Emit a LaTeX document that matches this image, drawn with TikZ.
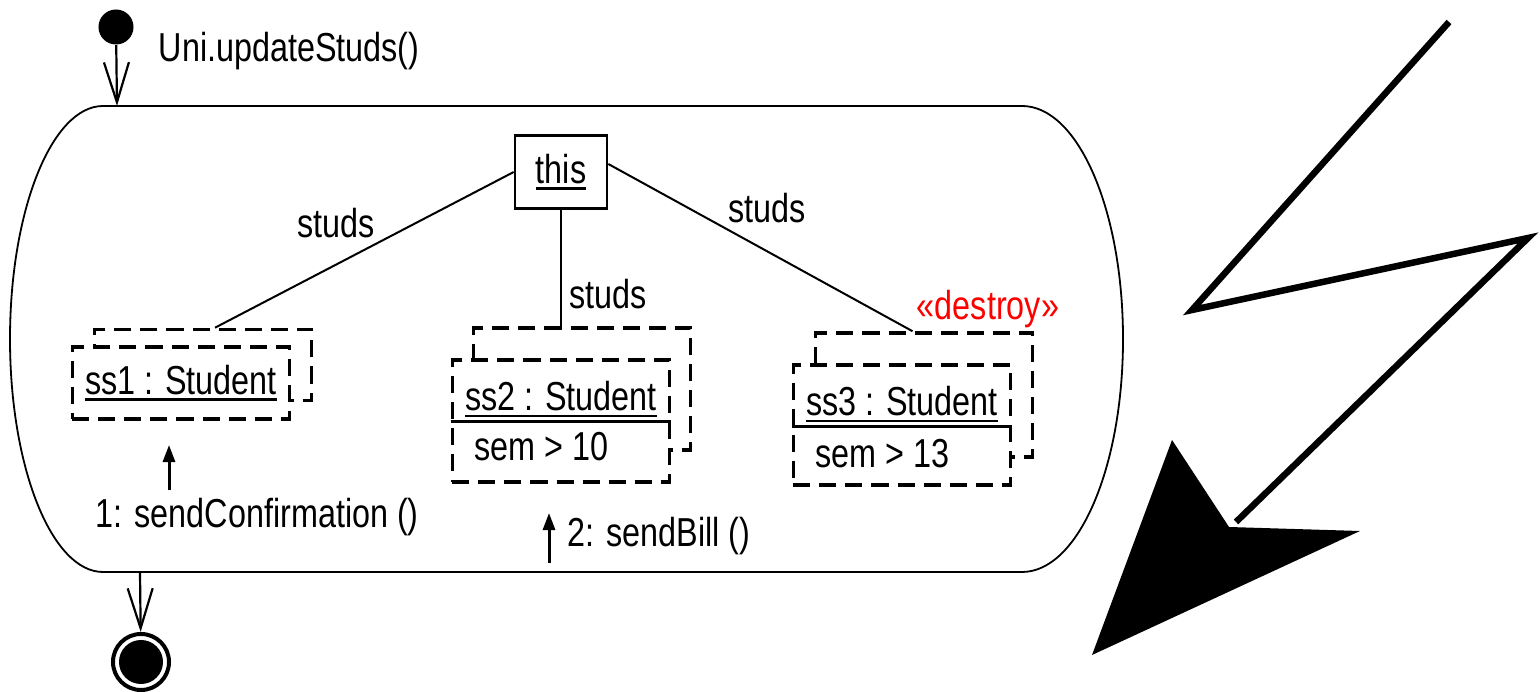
\documentclass[tikz,border=0pt]{standalone}
\usepackage{fontspec}
\setmainfont{Liberation Sans}[FakeStretch=0.8]
\usetikzlibrary{arrows.meta,positioning,calc}
\newcommand\uln[1]{\setbox0\hbox{#1}\rlap{\rule[-0.17em]{\wd0}{0.065em}}\box0}

\begin{document}
\begin{tikzpicture}[
  x=0.01cm,y=-0.01cm,%
  every node/.style={font=\fontsize{11.5}{13}\selectfont,inner sep=2pt},%
  ini/.style={circle,fill=black,minimum size=0.35cm,inner sep=0pt},%
  fin/.style={circle,draw,line width=0.04cm,minimum size=0.56cm,inner sep=0pt,
    path picture={\fill (path picture bounding box.center) circle (0.22cm);}},%
  o/.style={draw,line width=0.025cm,minimum width=0.92cm,minimum height=0.73cm},%
  ob/.style={draw,dash pattern=on 0.17cm off 0.09cm,line width=0.035cm,
    minimum width=2.17cm,fill=white,inner sep=0pt},%
  e/.style={line width=0.02cm},%
  tr/.style={line width=0.022cm,-{Straight Barb[length=0.4cm,width=0.25cm]}},%
  msg/.style={line width=0.03cm,-{Triangle[length=0.17cm,width=0.12cm]}},%
  ]
  \useasboundingbox (0,0) rectangle (1540,692);

  % state
  \draw [line width=0.025cm] (103,106) -- (1022,106);
  \draw [line width=0.025cm] (103,572) -- (1022,572);
  \draw [line width=0.018cm] (103,106) .. controls (52,106) and (10,210) .. (10,339)
    .. controls (10,468) and (52,572) .. (103,572);
  \draw [line width=0.018cm] (1022,106) .. controls (1078,106) and (1123,210) .. (1123,339)
    .. controls (1123,468) and (1078,572) .. (1022,572);
  \coordinate (in) at (117,106);
  \coordinate (out) at (140,572);

  \node (start) [ini] at (116,27) {};
  \node (trg) [anchor=west] at (151,51) {Uni.updateStuds()};
  \node (end) [fin] at (141,662) {};

  \draw [tr] (start) -- (in);
  \draw [tr] (out) -- (end);

  % objects
  \node (this) [o] at (561,172) {\uln{this}};

  \node (ss1b) [ob,minimum height=0.71cm] at (203,365) {};
  \node (ss1) [ob,minimum height=0.72cm] at (181,383) {\uln{ss1 : Student}};

  \node (ss2b) [ob,minimum height=1.22cm] at (582,389) {};
  \node (ss2) [ob,minimum height=1.22cm] at (561,421) {};
  \node (ss2n) [below=0.15cm of ss2.north] {\uln{ss2 : Student}};
  \node (ss2a) [anchor=west,inner sep=0pt] at ($(ss2.north west)+(23,88)$) {sem > 10};
  \draw [line width=0.03cm] ($(ss2.north west)+(0,63)$) -- ($(ss2.north east)+(0,63)$);

  \node (ss3b) [ob,minimum height=1.24cm] at (924,395) {};
  \node (ss3) [ob,minimum height=1.2cm] at (902,425) {};
  \node (ss3n) [below=0.15cm of ss3.north] {\uln{ss3 : Student}};
  \node (ss3a) [anchor=west,inner sep=0pt] at ($(ss3.north west)+(23,90)$) {sem > 13};
  \draw [line width=0.03cm] ($(ss3.north west)+(0,63)$) -- ($(ss3.north east)+(0,63)$);
  \node (destroy) [text=red] at (988,309) {«destroy»};

  \draw [e] (this.west) -- ([xshift=0.12cm]ss1b.north)
  node [pos=0.45,above left,inner sep=1pt] {studs};
  \draw [e] (this) -- (this |- ss2b.north)
  node [pos=0.72,right] {studs};
  \draw [e] ([yshift=0.08cm]this.east) -- ([xshift=-0.115cm]ss3b.north)
  node [pos=0.38,above right,inner sep=1pt] {studs};

  % messages
  \node (m1) [anchor=west] at (88,517) {1: sendConfirmation ()};
  \coordinate (c1) at (169,445);
  \draw [msg] (m1.north -| c1) -- (c1);

  \node (m2) [anchor=west] at (560,536) {2: sendBill ()};
  \coordinate (c2) at (549,513);
  \draw [msg] (m2.south -| c2) -- (c2);

  % interrupt
  \draw [line width=0.065cm] (1449,22) -- (1192,310) -- (1528,238) -- (1236,522);
  \fill (1172,440) -- (1229,527) -- (1360,531) -- (1092,655) -- cycle;
\end{tikzpicture}
\end{document}
